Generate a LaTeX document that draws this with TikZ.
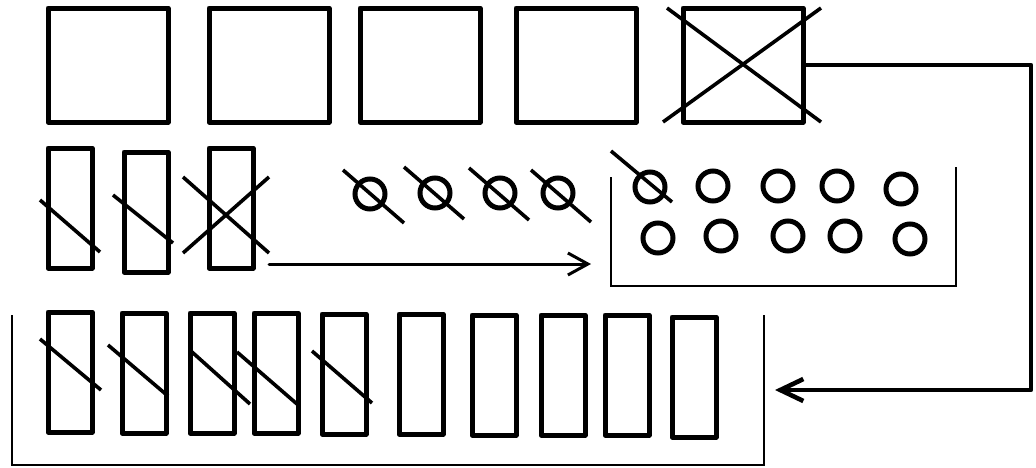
\documentclass[tikz,border=0pt]{standalone}
\usepackage{tikz}
\usetikzlibrary{arrows.meta}

\begin{document}
\begin{tikzpicture}[
  x=1pt,y=-1pt,
  sq/.style={draw,line width=5pt,line join=round,inner sep=0pt,
             minimum width=120pt,minimum height=114pt},
  bar/.style={draw,line width=5pt,line join=round,inner sep=0pt,
              minimum width=44pt,minimum height=120pt},
  ring/.style={draw,circle,line width=5pt,inner sep=0pt,minimum size=30pt},
  slash/.style={line width=3.6pt},
  thin/.style={line width=2.4pt},
  arrthin/.style={-{Straight Barb[length=20pt,width=22pt]},line width=3pt,
                  line cap=round},
  arr/.style={-{Straight Barb[length=23pt,width=22pt]},line width=4.6pt,
              line cap=round,line join=round}
]
\useasboundingbox (0,0) rectangle (1036,467);
% top row
\node[sq] (sq1) at (108,65) {};
\node[sq] (sq2) at (269,65) {};
\node[sq] (sq3) at (420,65) {};
\node[sq] (sq4) at (576,65) {};
\node[sq] (sq5) at (743,65) {};
\draw[slash] (667,8) -- (821,122); \draw[slash] (663,122) -- (821,8);
% middle row
\node[bar] (r1) at (70,208) {};
\node[bar] (r2) at (146,212) {};
\node[bar] (r3) at (231,208) {};
\draw[slash] (40,200) -- (100,252);
\draw[slash] (113,195) -- (173,243);
\draw[slash] (183,177) -- (269,253); \draw[slash] (183,253) -- (269,177);
\node[ring] (c1) at (370,194) {};
\node[ring] (c2) at (435,193) {};
\node[ring] (c3) at (500,193) {};
\node[ring] (c4) at (558,193) {};
\draw[slash] (343,170) -- (404,223);
\draw[slash] (404,167) -- (464,219);
\draw[slash] (469,168) -- (529,220);
\draw[slash] (531,170) -- (591,222);
% tray
\draw[thin] (611,177) -- (611,286) -- (956,286) -- (956,167);
\node[ring] (t1) at (650,187) {};
\node[ring] (t2) at (713,186) {};
\node[ring] (t3) at (778,186) {};
\node[ring] (t4) at (837,186) {};
\node[ring] (t5) at (901,189) {};
\node[ring] (t6) at (658,238) {};
\node[ring] (t7) at (721,236) {};
\node[ring] (t8) at (788,236) {};
\node[ring] (t9) at (845,236) {};
\node[ring] (t10) at (910,239) {};
\draw[slash] (611,151) -- (672,202);
\coordinate (arrS) at (269,264);
\coordinate (arrE) at (591,264);
\draw[arrthin] (arrS) -- (arrE);
% bottom row
\draw[thin] (12,315) -- (12,465) -- (764,465) -- (764,315);
\node[bar] (b1) at (70,372) {};
\node[bar] (b2) at (144,373) {};
\node[bar] (b3) at (212,373) {};
\node[bar] (b4) at (276,373) {};
\node[bar] (b5) at (344,374) {};
\node[bar] (b6) at (421,374) {};
\node[bar] (b7) at (494,375) {};
\node[bar] (b8) at (563,375) {};
\node[bar] (b9) at (627,375) {};
\node[bar] (b10) at (694,377) {};
\draw[slash] (40,339) -- (101,390);
\draw[slash] (108,345) -- (168,396);
\draw[slash] (192,352) -- (250,404);
\draw[slash] (237,352) -- (297,404);
\draw[slash] (312,351) -- (372,403);
% return connector
\coordinate (bend) at (1031,390);
\coordinate (tipB) at (775,390);
\draw[arr] (sq5.east) -| (bend) -- (tipB);
\end{tikzpicture}
\end{document}
